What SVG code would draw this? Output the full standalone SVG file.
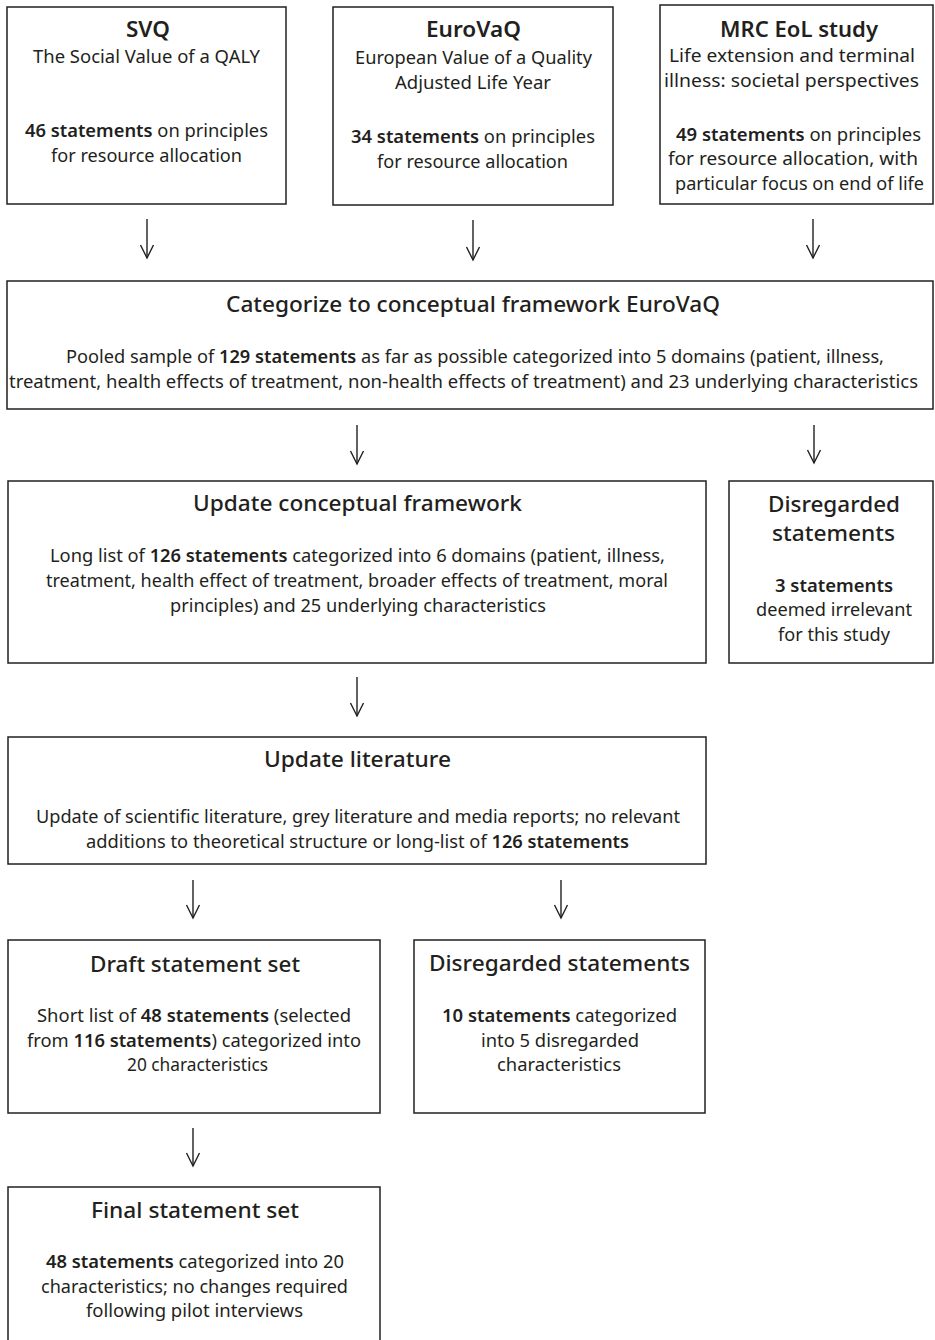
<svg xmlns="http://www.w3.org/2000/svg" width="935" height="1340" viewBox="0 0 935 1340">
<style>
.box{fill:#fff;stroke:#231f20;stroke-width:1.5}
text{font-family:"Noto Sans","Open Sans","Liberation Sans",sans-serif;fill:#231f20}
.h{font-size:22px;font-weight:600}
.m{font-size:22.5px;font-weight:500}
.b{font-size:18.5px;font-weight:400}
.s{font-weight:600}
.arr{stroke:#231f20;stroke-width:1.4;fill:none}
</style>
<defs>
<g id="ah"><path class="arr" d="M-6.5,-13 L0,0 L6.5,-13"/></g>
</defs>
<rect width="935" height="1340" fill="#fff"/>

<g id="connectors">
<line class="arr" x1="147" y1="219" x2="147" y2="258"/><use href="#ah" x="147" y="258"/>
<line class="arr" x1="473" y1="220" x2="473" y2="260"/><use href="#ah" x="473" y="260"/>
<line class="arr" x1="813" y1="219" x2="813" y2="258"/><use href="#ah" x="813" y="258"/>
<line class="arr" x1="357" y1="425" x2="357" y2="464"/><use href="#ah" x="357" y="464"/>
<line class="arr" x1="814" y1="425" x2="814" y2="463"/><use href="#ah" x="814" y="463"/>
<line class="arr" x1="357" y1="677" x2="357" y2="716"/><use href="#ah" x="357" y="716"/>
<line class="arr" x1="193" y1="880" x2="193" y2="918"/><use href="#ah" x="193" y="918"/>
<line class="arr" x1="561" y1="880" x2="561" y2="918"/><use href="#ah" x="561" y="918"/>
<line class="arr" x1="193" y1="1128" x2="193" y2="1166"/><use href="#ah" x="193" y="1166"/>
</g>

<g id="svq">
<rect class="box" x="7" y="7" width="279" height="197"/>
<text class="h" x="126" y="37" textLength="44" lengthAdjust="spacingAndGlyphs">SVQ</text>
<text class="b" x="33" y="63" textLength="227" lengthAdjust="spacingAndGlyphs">The Social Value of a QALY</text>
<text class="b" x="25" y="137" textLength="243" lengthAdjust="spacingAndGlyphs"><tspan class="s">46 statements</tspan> on principles</text>
<text class="b" x="51" y="162" textLength="191" lengthAdjust="spacingAndGlyphs">for resource allocation</text>
</g>

<g id="eurovaq">
<rect class="box" x="333" y="7" width="280" height="198"/>
<text class="h" x="426" y="37" textLength="95" lengthAdjust="spacingAndGlyphs">EuroVaQ</text>
<text class="b" x="355" y="64" textLength="237" lengthAdjust="spacingAndGlyphs">European Value of a Quality</text>
<text class="b" x="395" y="89" textLength="156" lengthAdjust="spacingAndGlyphs">Adjusted Life Year</text>
<text class="b" x="351" y="143" textLength="244" lengthAdjust="spacingAndGlyphs"><tspan class="s">34 statements</tspan> on principles</text>
<text class="b" x="377" y="168" textLength="191" lengthAdjust="spacingAndGlyphs">for resource allocation</text>
</g>

<g id="mrc">
<rect class="box" x="660" y="5" width="273" height="199"/>
<text class="h" x="720" y="37" textLength="158" lengthAdjust="spacingAndGlyphs">MRC EoL study</text>
<text class="b" x="669" y="62" textLength="246" lengthAdjust="spacingAndGlyphs">Life extension and terminal</text>
<text class="b" x="664" y="87" textLength="255" lengthAdjust="spacingAndGlyphs">illness: societal perspectives</text>
<text class="b" x="676" y="141" textLength="245" lengthAdjust="spacingAndGlyphs"><tspan class="s">49 statements</tspan> on principles</text>
<text class="b" x="668" y="165" textLength="250" lengthAdjust="spacingAndGlyphs">for resource allocation, with</text>
<text class="b" x="675" y="190" textLength="249" lengthAdjust="spacingAndGlyphs">particular focus on end of life</text>
</g>

<g id="categorize">
<rect class="box" x="7" y="281" width="926" height="128"/>
<text class="m" x="226" y="312" textLength="494" lengthAdjust="spacingAndGlyphs">Categorize to conceptual framework EuroVaQ</text>
<text class="b" x="66" y="363" textLength="818" lengthAdjust="spacingAndGlyphs">Pooled sample of <tspan class="s">129 statements</tspan> as far as possible categorized into 5 domains (patient, illness,</text>
<text class="b" x="9" y="388" textLength="909" lengthAdjust="spacingAndGlyphs">treatment, health effects of treatment, non-health effects of treatment) and 23 underlying characteristics</text>
</g>

<g id="update-framework">
<rect class="box" x="8" y="481" width="698" height="182"/>
<text class="m" x="193" y="511" textLength="329" lengthAdjust="spacingAndGlyphs">Update conceptual framework</text>
<text class="b" x="50" y="562" textLength="615" lengthAdjust="spacingAndGlyphs">Long list of <tspan class="s">126 statements</tspan> categorized into 6 domains (patient, illness,</text>
<text class="b" x="46" y="587" textLength="622" lengthAdjust="spacingAndGlyphs">treatment, health effect of treatment, broader effects of treatment, moral</text>
<text class="b" x="170" y="612" textLength="376" lengthAdjust="spacingAndGlyphs">principles) and 25 underlying characteristics</text>
</g>

<g id="disregarded-1">
<rect class="box" x="729" y="481" width="204" height="182"/>
<text class="m" x="768" y="512" textLength="132" lengthAdjust="spacingAndGlyphs">Disregarded</text>
<text class="m" x="772" y="541" textLength="123" lengthAdjust="spacingAndGlyphs">statements</text>
<text class="b s" x="775" y="592" textLength="118" lengthAdjust="spacingAndGlyphs">3 statements</text>
<text class="b" x="756" y="616" textLength="156" lengthAdjust="spacingAndGlyphs">deemed irrelevant</text>
<text class="b" x="778" y="641" textLength="112" lengthAdjust="spacingAndGlyphs">for this study</text>
</g>

<g id="update-literature">
<rect class="box" x="8" y="737" width="698" height="127"/>
<text class="m" x="264" y="767" textLength="187" lengthAdjust="spacingAndGlyphs">Update literature</text>
<text class="b" x="36" y="823" textLength="644" lengthAdjust="spacingAndGlyphs">Update of scientific literature, grey literature and media reports; no relevant</text>
<text class="b" x="86" y="848" textLength="543" lengthAdjust="spacingAndGlyphs">additions to theoretical structure or long-list of <tspan class="s">126 statements</tspan></text>
</g>

<g id="draft">
<rect class="box" x="8" y="940" width="372" height="173"/>
<text class="m" x="90" y="972" textLength="210" lengthAdjust="spacingAndGlyphs">Draft statement set</text>
<text class="b" x="37" y="1022" textLength="314" lengthAdjust="spacingAndGlyphs">Short list of <tspan class="s">48 statements</tspan> (selected</text>
<text class="b" x="27" y="1047" textLength="334" lengthAdjust="spacingAndGlyphs">from <tspan class="s">116 statements</tspan>) categorized into</text>
<text class="b" x="127" y="1071" textLength="141" lengthAdjust="spacingAndGlyphs">20 characteristics</text>
</g>

<g id="disregarded-2">
<rect class="box" x="414" y="940" width="291" height="173"/>
<text class="m" x="429" y="971" textLength="261" lengthAdjust="spacingAndGlyphs">Disregarded statements</text>
<text class="b" x="442" y="1022" textLength="235" lengthAdjust="spacingAndGlyphs"><tspan class="s">10 statements</tspan> categorized</text>
<text class="b" x="481" y="1047" textLength="158" lengthAdjust="spacingAndGlyphs">into 5 disregarded</text>
<text class="b" x="497" y="1071" textLength="124" lengthAdjust="spacingAndGlyphs">characteristics</text>
</g>

<g id="final">
<rect class="box" x="8" y="1187" width="372" height="160"/>
<text class="m" x="91" y="1218" textLength="208" lengthAdjust="spacingAndGlyphs">Final statement set</text>
<text class="b" x="46" y="1268" textLength="298" lengthAdjust="spacingAndGlyphs"><tspan class="s">48 statements</tspan> categorized into 20</text>
<text class="b" x="41" y="1293" textLength="307" lengthAdjust="spacingAndGlyphs">characteristics; no changes required</text>
<text class="b" x="86" y="1317" textLength="217" lengthAdjust="spacingAndGlyphs">following pilot interviews</text>
</g>
</svg>
